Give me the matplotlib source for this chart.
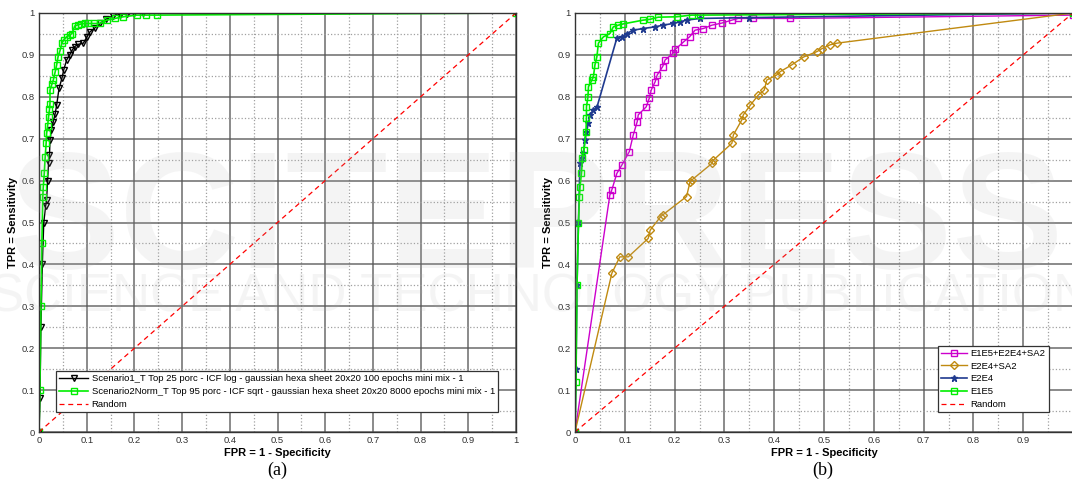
import numpy as np
import matplotlib
matplotlib.use("Agg")
import matplotlib.pyplot as plt
from matplotlib.ticker import MultipleLocator

plt.rcParams['font.family'] = ['Liberation Sans', 'DejaVu Sans']

# ---- data (FPR, TPR) ----
# panel (a)
s1_fpr = [0, 0.002, 0.004, 0.007, 0.010, 0.014, 0.016, 0.018, 0.020, 0.022, 0.023, 0.026,
          0.030, 0.034, 0.037, 0.042, 0.048, 0.052, 0.058, 0.064, 0.070, 0.075, 0.082, 0.093,
          0.100, 0.107, 0.118, 0.128, 0.140, 0.156, 0.170, 0.184, 0.200, 0.218, 1.0]
s1_tpr = [0, 0.08, 0.25, 0.40, 0.50, 0.54, 0.554, 0.60, 0.641, 0.66, 0.697, 0.72,
          0.741, 0.76, 0.780, 0.82, 0.844, 0.865, 0.888, 0.90, 0.912, 0.920, 0.925, 0.928,
          0.942, 0.955, 0.965, 0.975, 0.985, 0.994, 0.996, 0.998, 0.999, 1.0, 1.0]

s2_fpr = [0, 0.002, 0.004, 0.006, 0.008, 0.009, 0.011, 0.013, 0.015, 0.016, 0.018, 0.020,
          0.022, 0.023, 0.023, 0.027, 0.030, 0.034, 0.037, 0.040, 0.044, 0.048, 0.052, 0.058,
          0.064, 0.069, 0.075, 0.082, 0.089, 0.096, 0.103, 0.115, 0.128, 0.142, 0.159, 0.177,
          0.205, 0.225, 0.247, 1.0]
s2_tpr = [0, 0.10, 0.30, 0.45, 0.562, 0.585, 0.617, 0.657, 0.69, 0.713, 0.73, 0.752,
          0.77, 0.784, 0.816, 0.83, 0.840, 0.86, 0.876, 0.896, 0.91, 0.928, 0.936, 0.943,
          0.947, 0.951, 0.969, 0.972, 0.974, 0.975, 0.975, 0.975, 0.975, 0.983, 0.987, 0.991,
          0.995, 0.995, 0.995, 1.0]

# panel (b)
mix_fpr = [0, 0.070, 0.074, 0.084, 0.094, 0.109, 0.117, 0.125, 0.127, 0.143, 0.149, 0.153,
           0.161, 0.165, 0.176, 0.181, 0.197, 0.201, 0.218, 0.230, 0.241, 0.258, 0.275, 0.295,
           0.315, 0.328, 0.358, 0.432, 1.0]
mix_tpr = [0, 0.566, 0.578, 0.617, 0.637, 0.669, 0.709, 0.741, 0.757, 0.776, 0.796, 0.816,
           0.836, 0.852, 0.872, 0.888, 0.904, 0.913, 0.931, 0.943, 0.959, 0.963, 0.971, 0.976,
           0.983, 0.987, 0.987, 0.987, 0.995]

sa2_fpr = [0, 0.074, 0.090, 0.107, 0.147, 0.151, 0.172, 0.176, 0.224, 0.231, 0.234, 0.275,
           0.278, 0.315, 0.318, 0.335, 0.338, 0.352, 0.368, 0.380, 0.385, 0.405, 0.412, 0.435,
           0.459, 0.486, 0.496, 0.512, 0.526, 1.0]
sa2_tpr = [0, 0.379, 0.418, 0.418, 0.462, 0.482, 0.514, 0.518, 0.562, 0.597, 0.601, 0.641,
           0.649, 0.689, 0.709, 0.745, 0.757, 0.780, 0.804, 0.816, 0.840, 0.852, 0.860, 0.876,
           0.895, 0.908, 0.915, 0.924, 0.928, 1.0]

e2e4_fpr = [0, 0.002, 0.004, 0.007, 0.010, 0.014, 0.017, 0.020, 0.023, 0.027, 0.030, 0.037,
            0.044, 0.084, 0.094, 0.104, 0.117, 0.137, 0.161, 0.177, 0.197, 0.211, 0.224, 0.251,
            0.35, 1.0]
e2e4_tpr = [0, 0.15, 0.35, 0.502, 0.641, 0.655, 0.665, 0.697, 0.717, 0.737, 0.757, 0.768,
            0.775, 0.940, 0.943, 0.951, 0.959, 0.963, 0.967, 0.971, 0.975, 0.979, 0.983, 0.987,
            0.989, 1.0]

e1e5_fpr = [0, 0.002, 0.004, 0.007, 0.009, 0.010, 0.013, 0.015, 0.018, 0.022, 0.023, 0.023,
            0.026, 0.027, 0.034, 0.037, 0.040, 0.044, 0.047, 0.057, 0.070, 0.077, 0.087, 0.097,
            0.137, 0.151, 0.167, 0.204, 0.234, 0.251, 1.0]
e1e5_tpr = [0, 0.12, 0.35, 0.50, 0.562, 0.585, 0.617, 0.653, 0.673, 0.717, 0.749, 0.776,
            0.800, 0.824, 0.840, 0.848, 0.876, 0.896, 0.928, 0.943, 0.951, 0.967, 0.971, 0.974,
            0.983, 0.985, 0.990, 0.991, 0.995, 0.995, 1.0]

ticks = [0, 0.1, 0.2, 0.3, 0.4, 0.5, 0.6, 0.7, 0.8, 0.9, 1]
tick_labels = ['0', '0.1', '0.2', '0.3', '0.4', '0.5', '0.6', '0.7', '0.8', '0.9', '1']

fig = plt.figure(figsize=(10.72, 4.95), dpi=100)
ax1 = fig.add_axes([39 / 1072, 1 - 432 / 495, 477 / 1072, 419 / 495])
ax2 = fig.add_axes([575 / 1072, 1 - 432 / 495, 498 / 1072, 419 / 495])


def style(ax, xt):
    ax.set_xlim(0, 1)
    ax.set_ylim(0, 1)
    ax.set_xticks(xt)
    ax.set_xticklabels(tick_labels[:len(xt)])
    ax.set_yticks(ticks)
    ax.set_yticklabels(tick_labels)
    ax.xaxis.set_minor_locator(MultipleLocator(0.05))
    ax.yaxis.set_minor_locator(MultipleLocator(0.05))
    ax.grid(which='major', color='#555555', linestyle='-', linewidth=1.2, alpha=0.8)
    ax.grid(which='minor', color='#a0a0a0', linestyle=':', linewidth=0.9)
    ax.set_axisbelow(True)
    ax.tick_params(which='both', direction='in', length=0, labelsize=6.8, colors='#333333', pad=3)
    for sp in ax.spines.values():
        sp.set_color('#333333')
        sp.set_linewidth(1.0)
    ax.set_xlabel('FPR = 1 - Specificity', fontsize=8, fontweight='bold', labelpad=2)
    ax.set_ylabel('TPR = Sensitivity', fontsize=8, fontweight='bold')
    ax.yaxis.set_label_coords(-0.045, 0.5)


style(ax1, ticks)
style(ax2, ticks[:-1])

ms = 5
ax1.plot(s1_fpr, s1_tpr, color='black', marker='v', mfc='none', ms=ms, lw=1,
         label='Scenario1_T Top 25 porc - ICF log - gaussian hexa sheet 20x20 100 epochs mini mix - 1')
ax1.plot(s2_fpr, s2_tpr, color='#00ee00', marker='s', mfc='none', ms=ms, lw=1.2,
         label='Scenario2Norm_T Top 95 porc - ICF sqrt - gaussian hexa sheet 20x20 8000 epochs mini mix - 1')
ax1.plot([0, 1], [0, 1], color='red', linestyle='--', lw=0.9, dashes=(4, 3), label='Random')
leg1 = ax1.legend(loc='lower left', bbox_to_anchor=(0.036, 0.047), fontsize=6.8, fancybox=False,
                  framealpha=1, edgecolor='#333333', borderpad=0.35, labelspacing=0.4,
                  handlelength=3.0, handletextpad=0.4, borderaxespad=0)
leg1.get_frame().set_linewidth(0.9)

ax2.plot(mix_fpr, mix_tpr, color='#cc00cc', marker='s', mfc='none', ms=ms, lw=1,
         label='E1E5+E2E4+SA2')
ax2.plot(sa2_fpr, sa2_tpr, color='#c08a10', marker='D', mfc='none', ms=4, lw=1,
         label='E2E4+SA2')
ax2.plot(e2e4_fpr, e2e4_tpr, color='#1f3a8f', marker='*', ms=ms, lw=1.2,
         label='E2E4')
ax2.plot(e1e5_fpr, e1e5_tpr, color='#00ee00', marker='s', mfc='none', ms=ms, lw=1.2,
         label='E1E5')
ax2.plot([0, 1], [0, 1], color='red', linestyle='--', lw=0.9, dashes=(4, 3), label='Random')
leg2 = ax2.legend(loc='lower left', bbox_to_anchor=((938 - 575) / 498, 0.047), fontsize=6.8,
                  fancybox=False, framealpha=1, edgecolor='#333333', borderpad=0.35,
                  labelspacing=0.4, handlelength=2.7, handletextpad=0.4, borderaxespad=0)
leg2.get_frame().set_linewidth(0.9)

fig.text(277 / 1072, 1 - 470 / 495, '(a)', ha='center', va='center', fontsize=13,
         family='Liberation Serif')
fig.text(823 / 1072, 1 - 470 / 495, '(b)', ha='center', va='center', fontsize=13,
         family='Liberation Serif')

# faint publisher watermark
fig.text(0.5, 1 - 225 / 495, 'SCITEPRESS', ha='center', va='center', fontsize=120,
         fontweight='bold', color='#b0b0b0', alpha=0.13)
fig.text(0.52, 1 - 298 / 495, 'SCIENCE AND TECHNOLOGY PUBLICATIONS', ha='center', va='center',
         fontsize=38, color='#b0b0b0', alpha=0.13)

fig.savefig('out.png', dpi=100)
